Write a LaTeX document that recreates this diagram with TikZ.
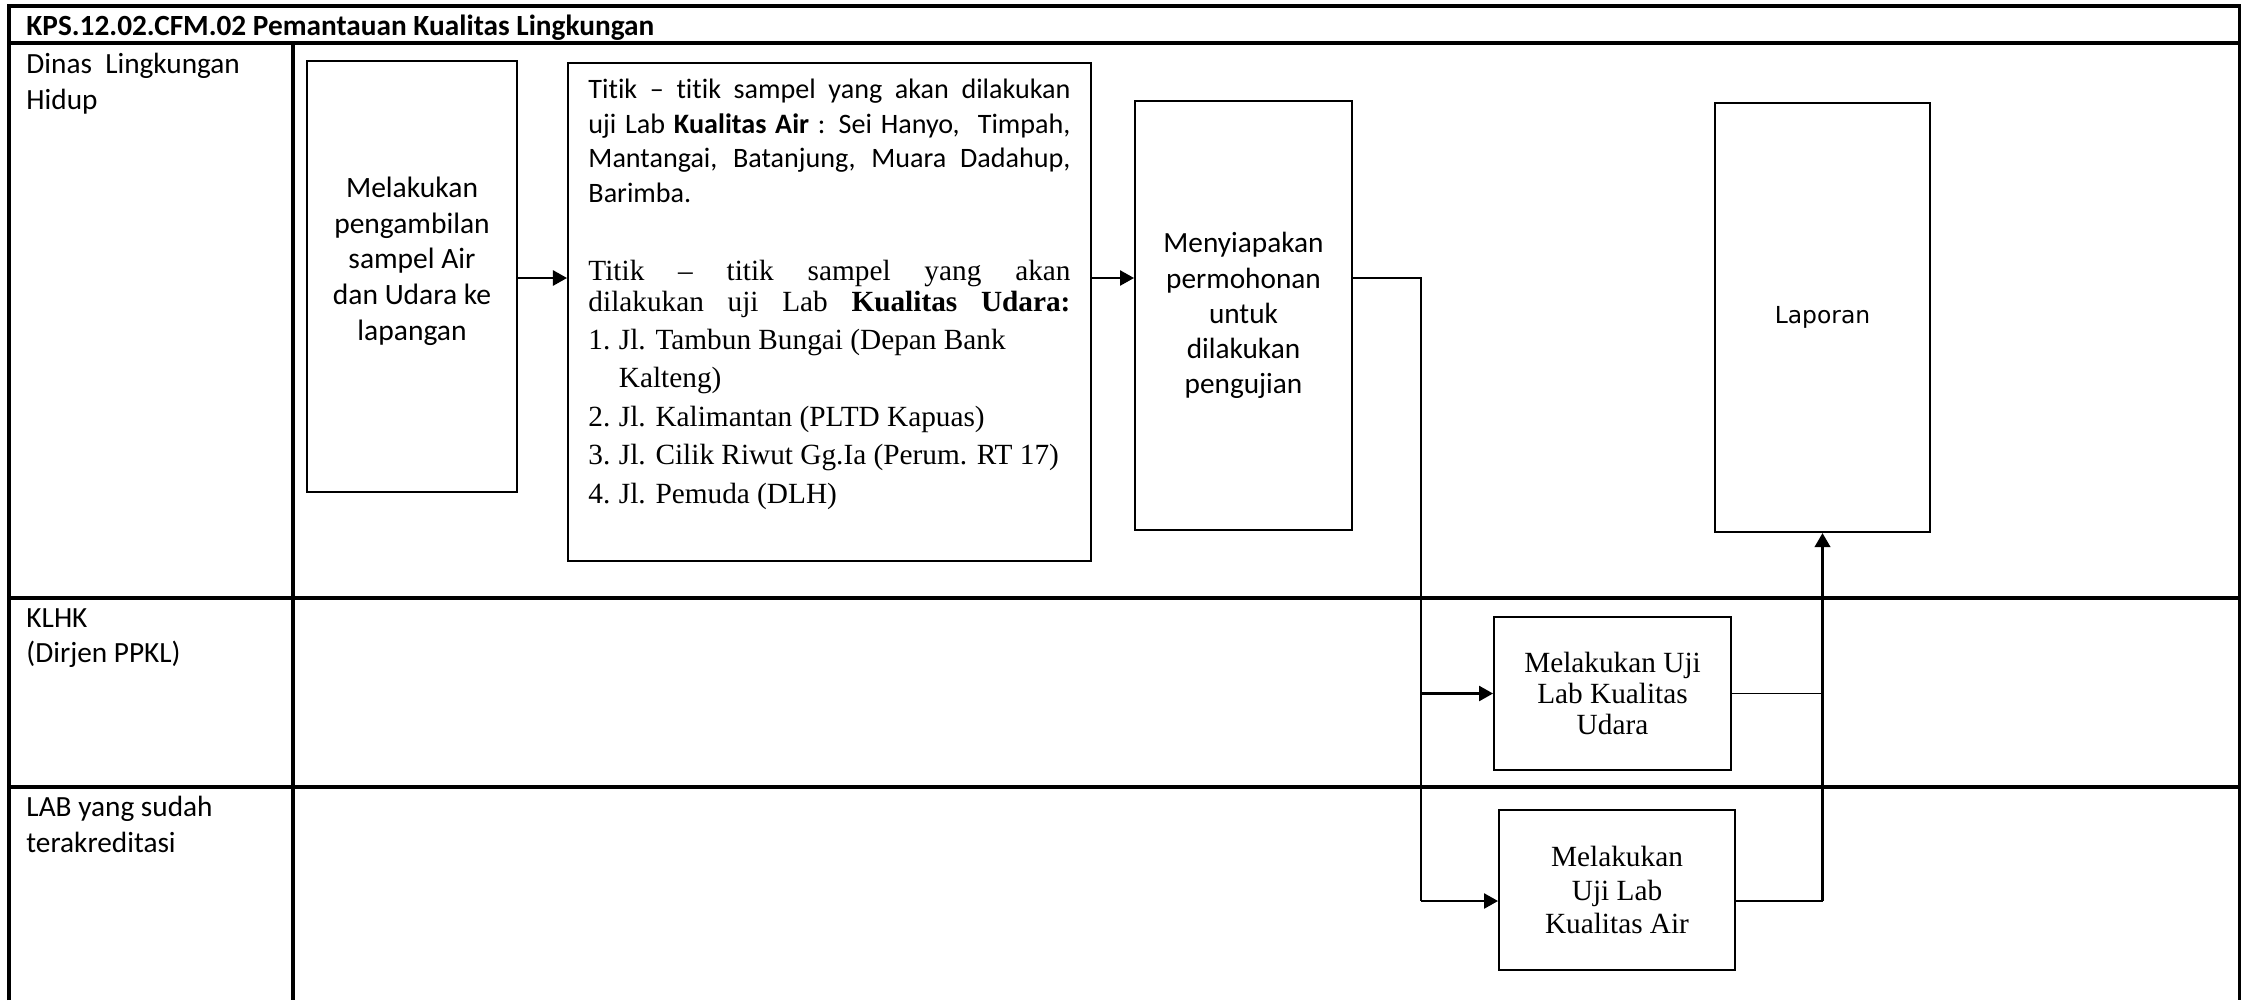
\documentclass[tikz,border=0pt]{standalone}
\usepackage{fontspec}
\setmainfont{Carlito}[Ligatures=NoCommon]
\newfontfamily\serifteks{Liberation Serif}
\newfontfamily\laporsans{DejaVu Sans}
\usetikzlibrary{arrows.meta}
\usetikzlibrary{calc}

\begin{document}
\begin{tikzpicture}[x=0.015cm,y=-0.015cm,
lanerule/.style={line width=1.3pt},
stepbox/.style={draw,line width=0.8pt,inner sep=0pt,align=center},
lanetext/.style={anchor=north west,inner sep=0pt,align=left,font=\fontsize{12.5}{15.2}\selectfont},
flowarrow/.style={line width=1.1pt,-{Triangle[length=6pt,width=6.4pt]}},
flowline/.style={line width=0.8pt}]
\useasboundingbox (0,0) rectangle (2242,1000);
\draw[lanerule] (9,1000)--(9,6)--(2239,6)--(2239,1000);
\draw[lanerule] (9,43)--(2239,43);
\draw[lanerule] (293,43)--(293,1000);
\draw[lanerule] (9,598)--(2239,598);
\draw[lanerule] (9,787)--(2239,787);
\node[lanetext,font=\bfseries\fontsize{12.5}{15}\selectfont] (judul) at (26,14) {KPS.12.02.CFM.02 Pemantauan Kualitas Lingkungan};
\node[lanetext] (dlh) at (26,53) {Dinas~ Lingkungan\\Hidup};
\node[lanetext] (klhk) at (26,608) {KLHK\\(Dirjen PPKL)};
\node[lanetext] (lab) at (26,796) {LAB yang sudah\\terakreditasi};
\node[stepbox,minimum width=3.15cm,minimum height=6.465cm,font=\fontsize{12.6}{15.2}\selectfont] (ambil) at (412,276.5) {Melakukan\\pengambilan\\sampel Air\\dan Udara ke\\lapangan\\~};
\node[stepbox,minimum width=7.845cm,minimum height=7.47cm] (titik) at (829.5,312) {};
\node[anchor=north west,inner sep=0pt,text width=7.23cm,align=justify] (titiktxt) at (588,79) {%
{\fontsize{12}{14.7}\selectfont Titik – titik sampel yang akan dilakukan\linebreak uji Lab \textbf{Kualitas Air} : Sei Hanyo,~ Timpah,\linebreak Mantangai, Batanjung, Muara Dadahup,\linebreak Barimba.\par}
\vspace{20pt}
{\serifteks\fontsize{12.5}{13.2}\selectfont\parfillskip=0pt Titik – titik sampel yang akan\linebreak dilakukan uji Lab \textbf{Kualitas Udara:}\par}
{\serifteks\fontsize{12.5}{16.4}\selectfont
\makebox[13pt][l]{1.}Jl. Tambun Bungai (Depan Bank\\
\hspace*{13pt}Kalteng)\\
\makebox[13pt][l]{2.}Jl. Kalimantan (PLTD Kapuas)\\
\makebox[13pt][l]{3.}Jl. Cilik Riwut Gg.Ia (Perum. RT 17)\\
\makebox[13pt][l]{4.}Jl. Pemuda (DLH)\par}};
\node[stepbox,minimum width=3.255cm,minimum height=6.435cm,font=\fontsize{12.5}{15}\selectfont] (siap) at (1243.5,315.5) {Menyiapakan\\permohonan\\untuk\\dilakukan\\pengujian};
\node[stepbox,minimum width=3.225cm,minimum height=6.435cm,font=\laporsans\fontsize{10}{12}\selectfont] (lapor) at (1822.5,317.5) {Laporan};
\node[stepbox,minimum width=3.555cm,minimum height=2.295cm,font=\serifteks\fontsize{12.5}{13.4}\selectfont] (ujiudara) at (1612.5,693.5) {Melakukan Uji\\Lab Kualitas\\Udara};
\node[stepbox,minimum width=3.54cm,minimum height=2.4cm,font=\serifteks\fontsize{12.5}{14.3}\selectfont] (ujiair) at (1617,890) {Melakukan\\Uji Lab\\Kualitas Air};
\coordinate (cabang) at (1421,278);
\coordinate (masukair) at (1421,901);
\draw[flowarrow] (ambil.east|-cabang) -- (titik.west|-cabang);
\draw[flowarrow] (titik.east|-cabang) -- (siap.west|-cabang);
\draw[flowline,line width=1.1pt] (siap.east|-cabang) -- (cabang) -- (masukair);
\draw[flowarrow] (cabang|-ujiudara.west) -- (ujiudara.west);
\draw[flowarrow] (masukair) -- (ujiair.west|-masukair);
\draw[flowline] (ujiudara.east) -- (ujiudara.east-|lapor.south);
\draw[flowline] (ujiair.east|-masukair) -- (masukair-|lapor.south);
\draw[flowarrow,line width=1.6pt] (masukair-|lapor.south) -- (lapor.south);
\end{tikzpicture}
\end{document}
